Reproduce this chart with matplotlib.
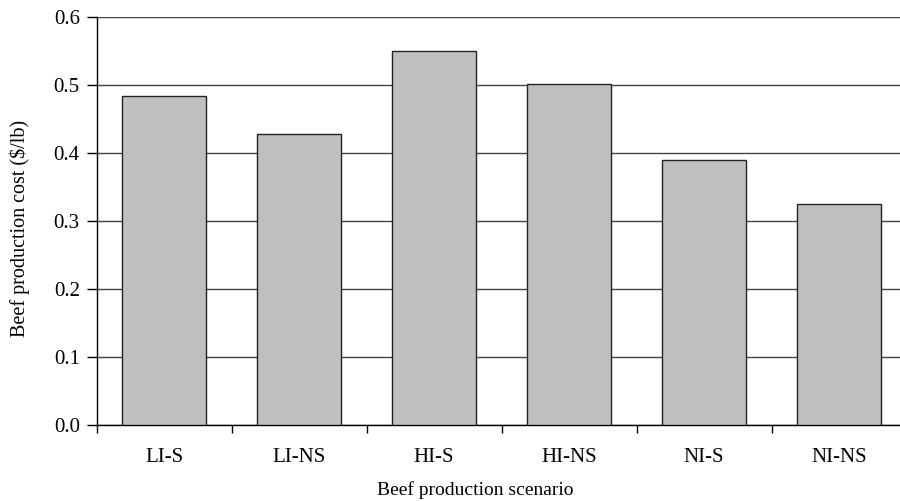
import matplotlib
matplotlib.use("Agg")
import matplotlib.pyplot as plt

categories = ["LI-S", "LI-NS", "HI-S", "HI-NS", "NI-S", "NI-NS"]
costs = [0.484, 0.428, 0.550, 0.502, 0.390, 0.326]
yticks = [0.0, 0.1, 0.2, 0.3, 0.4, 0.5, 0.6]

plt.rcParams['font.family'] = ['Liberation Serif', 'DejaVu Serif']

W, H = 900, 501
fig = plt.figure(figsize=(W / 100, H / 100), dpi=100)
left, right = 96.5, 906.5
top, bottom = 17.3, 425.3
ax = fig.add_axes([left / W, 1 - bottom / H, (right - left) / W, (bottom - top) / H])

x = list(range(len(categories)))
ax.bar(x, costs, width=0.626, color='#c0c0c0', edgecolor='#222222', linewidth=1.0, zorder=3)
ax.set_xlim(-0.5, len(categories) - 0.5)
ax.set_ylim(0, 0.6)
ax.set_yticks(yticks)
ax.set_yticklabels([f"{v:.1f}" for v in yticks], fontsize=15)
ax.yaxis.grid(True, color='#444444', linewidth=1.0, zorder=0)
ax.set_axisbelow(True)

ax.set_xticks([i + 0.5 for i in range(-1, len(categories))], minor=False)
ax.set_xticklabels([])
ax.set_xticks(x, minor=True)
ax.set_xticklabels(categories, minor=True, fontsize=15)
ax.tick_params(axis='x', which='major', direction='out', length=6, width=1)
ax.tick_params(axis='x', which='minor', length=0, pad=16)
ax.tick_params(axis='y', direction='out', length=7, width=1, pad=5)

for s in ['top', 'right']:
    ax.spines[s].set_visible(False)
for s in ['left', 'bottom']:
    ax.spines[s].set_color('black')
    ax.spines[s].set_linewidth(1.0)

ax.set_ylabel("Beef production cost ($/lb)", fontsize=14.5)
ax.yaxis.set_label_coords((20 - left) / (right - left), (bottom - 228) / (bottom - top))
ax.set_xlabel("Beef production scenario", fontsize=14)
ax.xaxis.set_label_coords((475 - left) / (right - left), -(490 - bottom) / (bottom - top))
ax.xaxis.label.set_va('center')
ax.yaxis.label.set_va('center')

fig.savefig("out.png", dpi=100)
